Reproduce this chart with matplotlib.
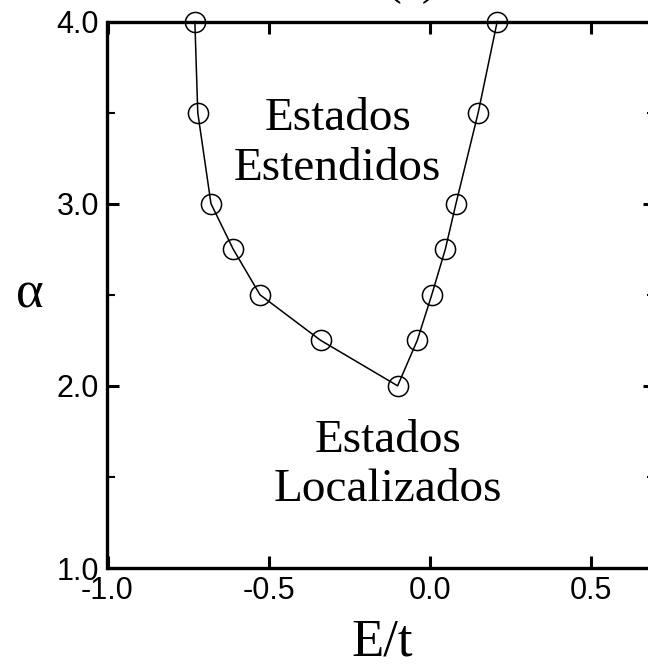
import matplotlib
matplotlib.use("Agg")
import matplotlib.pyplot as plt
import numpy as np

# mobility edge: energy E/t vs alpha
energy = [-0.729, -0.720, -0.679, -0.610, -0.527, -0.339, -0.100,
          -0.039, 0.006, 0.048, 0.081, 0.150, 0.209]
alpha = [4.0, 3.5, 3.0, 2.75, 2.5, 2.25, 2.0,
         2.25, 2.5, 2.75, 3.0, 3.5, 4.0]

x_ticks = [-1.0, -0.5, 0.0, 0.5]
y_ticks = [1.0, 2.0, 3.0, 4.0]
y_minor = [1.5, 2.5, 3.5]

plt.rcParams["axes.unicode_minus"] = False
SERIF = "Liberation Serif"
SANS = "Liberation Sans"

W, H = 648, 671
fig = plt.figure(figsize=(W / 100, H / 100), dpi=100)
# axes run a little past the right edge, as in the (cropped) original
ax = fig.add_axes([107.5 / W, 103 / H, 548 / W, 546.5 / H])

ax.plot(energy, alpha, color="black", lw=1.1, marker="o", ms=14.5,
        mfc="none", mec="black", mew=1.1, zorder=3, clip_on=False)

ax.set_xlim(-1.0, 0.7)
ax.set_ylim(1.0, 4.0)
ax.set_xticks(x_ticks)
ax.set_xticklabels([f"{v:.1f}" for v in x_ticks])
ax.set_yticks(y_ticks)
ax.set_yticklabels([f"{v:.1f}" for v in y_ticks])
ax.set_yticks(y_minor, minor=True)

for s in ax.spines.values():
    s.set_linewidth(2.4)

ax.tick_params(which="major", direction="in", length=8.6, width=2.2,
               top=True, right=True, labelsize=22, pad=6)
ax.tick_params(which="minor", direction="in", length=6, width=1.5,
               left=True, right=True)
for lab in ax.get_xticklabels() + ax.get_yticklabels():
    lab.set_fontfamily(SANS)

ax.text(-0.286, 3.33, "Estados\nEstendidos", ha="center", va="center",
        fontsize=34, family=SERIF, linespacing=1.22)
ax.text(-0.13, 1.565, "Estados\nLocalizados", ha="center", va="center",
        fontsize=34, family=SERIF, linespacing=1.22)

fig.text(30 / W, 1 - 295 / H, "α", ha="center", va="center",
         fontsize=38, family=SERIF)
fig.text(382 / W, 1 - 642 / H, "E/t", ha="center", va="center",
         fontsize=38, family=SERIF)
fig.text(412 / W, 1 - 4 / H, "(a)", ha="center", va="bottom",
         fontsize=34, family=SERIF)

fig.savefig("out.png", dpi=100)
